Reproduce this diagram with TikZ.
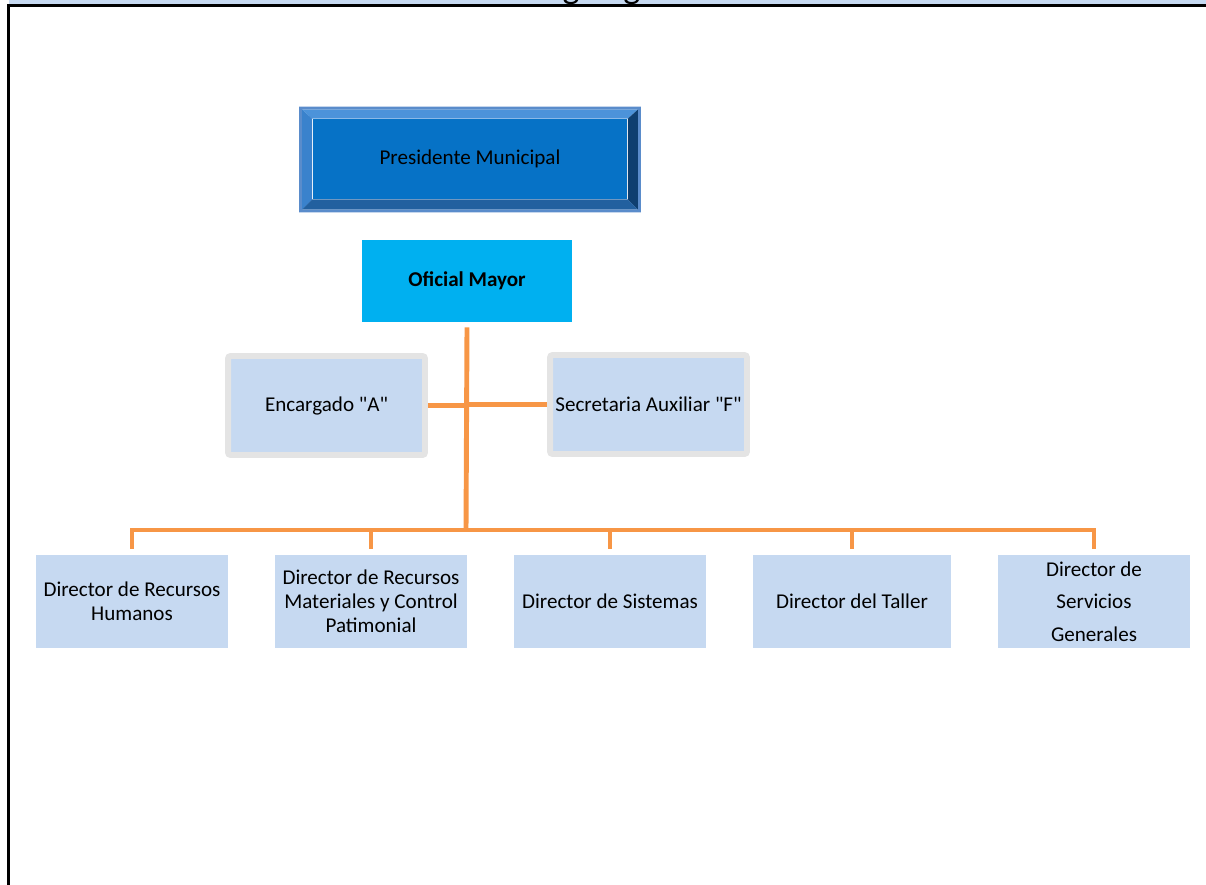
\documentclass[tikz,border=0pt]{standalone}
\usepackage{fontspec}
\setmainfont{Carlito}[Ligatures=TeXOff]
\usetikzlibrary{calc,positioning}
\definecolor{boxblue}{HTML}{C6D9F1}
\definecolor{bandblue}{HTML}{C6D9F1}
\definecolor{mayorblue}{HTML}{00B0F0}
\definecolor{presface}{HTML}{0672C6}
\definecolor{presedge}{HTML}{5A8CCB}
\definecolor{bevtop}{HTML}{4C93DA}
\definecolor{bevleft}{HTML}{3A82CC}
\definecolor{bevright}{HTML}{0E3F70}
\definecolor{bevbottom}{HTML}{22609F}
\definecolor{linkorange}{HTML}{F79646}
\definecolor{framegray}{HTML}{E4E4E4}

\begin{document}
\begin{tikzpicture}[x=0.02cm,y=-0.02cm,font=\fontsize{12}{13.6}\selectfont,
  link/.style={draw=linkorange,line width=2.8pt},
  presbox/.style={fill=presface,minimum width=6.3cm,minimum height=1.6cm,inner sep=0pt},
  mayorbox/.style={fill=mayorblue,minimum width=4.2cm,minimum height=1.64cm,font=\fontsize{12}{13.6}\selectfont\bfseries},
  staffbox/.style={fill=boxblue,draw=framegray,line width=3.4pt,rounded corners=1.5pt,minimum width=3.94cm,minimum height=1.98cm,inner sep=0pt,align=center},
  dirbox/.style={fill=boxblue,minimum width=3.84cm,minimum height=1.86cm,inner sep=1pt,align=center}]
\useasboundingbox (0,0) rectangle (1206,885);
\fill[bandblue] (9,0) rectangle (1206,4);
\begin{scope}
\clip (9,0) rectangle (1206,4);
\node[font=\fontsize{20.5}{24}\selectfont,anchor=base] (title) at (621,-1) {Organigrama};
\end{scope}
\draw[line width=1.5pt] (8.5,885) -- (8.5,5.5) -- (1206,5.5);

\node[presbox] (pres) at (470,159) {Presidente Municipal};
\fill[presedge,even odd rule] ($(pres.north west)+(-13,-12)$) rectangle ($(pres.south east)+(13,13)$)
  ($(pres.north west)+(-10,-9)$) rectangle ($(pres.south east)+(10,10)$);
\fill[bevtop] ($(pres.north west)+(-10,-9)$) -- ($(pres.north east)+(10,-9)$) -- (pres.north east) -- (pres.north west) -- cycle;
\fill[bevleft] ($(pres.north west)+(-10,-9)$) -- (pres.north west) -- (pres.south west) -- ($(pres.south west)+(-10,10)$) -- cycle;
\fill[bevright] ($(pres.north east)+(10,-9)$) -- (pres.north east) -- (pres.south east) -- ($(pres.south east)+(10,10)$) -- cycle;
\fill[bevbottom] ($(pres.south west)+(-10,10)$) -- (pres.south west) -- (pres.south east) -- ($(pres.south east)+(10,10)$) -- cycle;

\node[mayorbox] (mayor) at (467,281) {Oficial Mayor};
\node[staffbox] (enc) at (326.5,405.5) {Encargado "A"};
\node[staffbox] (sec) at (648.5,404.5) {Secretaria Auxiliar "F"};

\node[dirbox] (d1) at (132,601.5) {Director de Recursos\\Humanos};
\node[dirbox] (d2) at (371,601.5) {Director de Recursos\\Materiales y Control\\Patimonial};
\node[dirbox] (d3) at (610,601.5) {Director de Sistemas};
\node[dirbox,minimum width=3.96cm] (d4) at (852,601.5) {Director del Taller};
\node[dirbox,font=\fontsize{12}{18.4}\selectfont] (d5) at (1094,601.5) {Director de\\Servicios\\Generales};

\coordinate (bus) at (466,530);
\draw[link] ([yshift=-0.1cm]mayor.south) -- (bus);
\draw[link] (enc.east) -- (enc.east -| bus);
\draw[link] (sec.west) -- (sec.west -| bus);
\draw[link] ([yshift=0.12cm]d1.north) -- (d1.north |- bus) -- (d5.north |- bus) -- ([yshift=0.12cm]d5.north);
\draw[link] (d2.north |- bus) -- ([yshift=0.12cm]d2.north);
\draw[link] (d3.north |- bus) -- ([yshift=0.12cm]d3.north);
\draw[link] (d4.north |- bus) -- ([yshift=0.12cm]d4.north);
\end{tikzpicture}
\end{document}
